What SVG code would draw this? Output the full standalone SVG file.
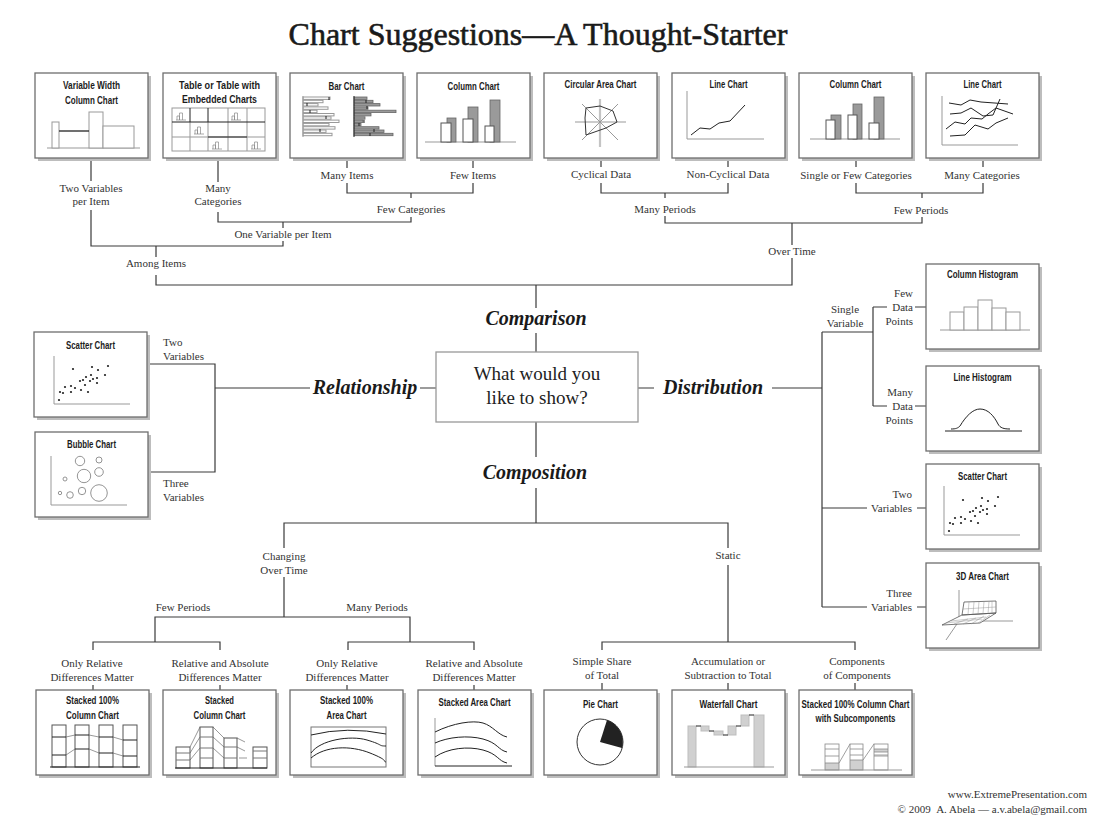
<svg xmlns="http://www.w3.org/2000/svg" xmlns:xlink="http://www.w3.org/1999/xlink" width="1104" height="824" viewBox="0 0 1104 824">
<style>
.t{font-family:"Liberation Sans",Arial,sans-serif;font-weight:bold;font-size:11px;fill:#1c1c1c;text-anchor:middle}
.l{font-family:"Liberation Serif","Times New Roman",serif;font-size:11px;fill:#333}
.c{text-anchor:middle}
.r{text-anchor:end}
.cat{font-family:"Liberation Serif","Times New Roman",serif;font-weight:bold;font-style:italic;font-size:20px;fill:#1a1a1a;text-anchor:middle}
.conn path{stroke:#3a3a3a;stroke-width:1.2;fill:none}
.g{stroke:#999;stroke-width:1;fill:none}
.gw{stroke:#999;stroke-width:1;fill:#fff}
.k{stroke:#222;stroke-width:1;fill:none}
.kw{stroke:#555;stroke-width:1;fill:#fff}
.dg{stroke:#666;stroke-width:0.8;fill:#9a9a9a}
.lt{stroke:#bdbdbd;stroke-width:1;fill:#d0d0d0}
</style>
<defs>
<g id="frame"><rect x="3" y="3" width="113" height="85" fill="#bdbdbd"/><rect x="0" y="0" width="113" height="85" fill="#fff" stroke="#6e6e6e" stroke-width="1.3"/></g>
<path id="mini" d="M0 9H10M1 9V5H3.5V9M3.5 9V2H6.5V9" fill="none" stroke="#888" stroke-width="0.7"/>
<g id="dots" fill="#222">
<circle cx="39" cy="37" r="1.1"/><circle cx="58" cy="35" r="1.1"/><circle cx="64" cy="38" r="1.1"/><circle cx="74" cy="34" r="1.1"/>
<circle cx="57" cy="43" r="1.1"/><circle cx="52" cy="45" r="1.1"/><circle cx="49" cy="48" r="1.1"/><circle cx="46" cy="49" r="1.1"/>
<circle cx="59" cy="47" r="1.1"/><circle cx="63" cy="46" r="1.1"/><circle cx="71" cy="43" r="1.1"/><circle cx="56" cy="49" r="1.1"/>
<circle cx="51" cy="53" r="1.1"/><circle cx="63" cy="51" r="1.1"/><circle cx="31" cy="55" r="1.1"/><circle cx="37" cy="54" r="1.1"/>
<circle cx="41" cy="56" r="1.1"/><circle cx="26" cy="60" r="1.1"/><circle cx="29" cy="61" r="1.1"/><circle cx="37" cy="60" r="1.1"/>
<circle cx="47" cy="58" r="1.1"/><circle cx="54" cy="60" r="1.1"/><circle cx="25" cy="68" r="1.1"/>
</g>
</defs>
<rect width="1104" height="824" fill="#fff"/>
<text x="538" y="45" font-family="'Liberation Serif','Times New Roman',serif" font-size="32" fill="#1a1a1a" stroke="#1a1a1a" stroke-width="0.6" text-anchor="middle">Chart Suggestions—A Thought-Starter</text>

<g class="conn">
<path d="M91 158V181M91 210V246H283V241M218 158V182M218 212V222H411V217M283 222V228"/>
<path d="M347 158V168M347 183V193H473V183M473 158V168M411 193V198"/>
<path d="M156 246V257M156 275V285H792V258M792 223V245"/>
<path d="M601 158V167M601 183V193H728V183M728 158V167M665 193V198M665 216V223H922V217M922 193V198"/>
<path d="M856 158V167M856 183V193H983V183M983 158V167"/>
<path d="M536 285V308M536 333V352M536 422V457M536 488V523"/>
<path d="M284 548V523H728V548M284 577V617M155 642V617H410V642M93 650V642H220V650M348 650V642H474V650"/>
<path d="M93 685V690M220 685V690M347 685V690M474 685V690"/>
<path d="M728 565V642M602 650V642H855V650M602 683V690M728 683V690M855 683V690"/>
<path d="M148 364H215V472H149M215 388H310M420 388H436"/>
<path d="M638 388H654M772 388H822M822 332V607M822 332H873M873 307V406M873 307H887M915 307H926M873 406H887M915 406H926M822 508H867M917 508H926M822 607H867M917 607H926"/>
</g>

<g id="labels" class="l">
<text class="c" x="91" y="192">Two Variables</text><text class="c" x="91" y="205">per Item</text>
<text class="c" x="218" y="192">Many</text><text class="c" x="218" y="205">Categories</text>
<text class="c" x="283" y="238">One Variable per Item</text>
<text class="c" x="156" y="267">Among Items</text>
<text class="c" x="347" y="179">Many Items</text>
<text class="c" x="473" y="179">Few Items</text>
<text class="c" x="411" y="213">Few Categories</text>
<text class="c" x="601" y="178">Cyclical Data</text>
<text class="c" x="728" y="178">Non-Cyclical Data</text>
<text class="c" x="665" y="213">Many Periods</text>
<text class="c" x="856" y="179">Single or Few Categories</text>
<text class="c" x="982" y="179">Many Categories</text>
<text class="c" x="921" y="214">Few Periods</text>
<text class="c" x="792" y="255">Over Time</text>
<text class="c" x="845" y="313">Single</text><text class="c" x="845" y="327">Variable</text>
<text class="r" x="913" y="297">Few</text><text class="r" x="913" y="311">Data</text><text class="r" x="913" y="325">Points</text>
<text class="r" x="913" y="396">Many</text><text class="r" x="913" y="410">Data</text><text class="r" x="913" y="424">Points</text>
<text class="r" x="912" y="498">Two</text><text class="r" x="912" y="512">Variables</text>
<text class="r" x="912" y="597">Three</text><text class="r" x="912" y="611">Variables</text>
<text x="163" y="346">Two</text><text x="163" y="360">Variables</text>
<text x="163" y="487">Three</text><text x="163" y="501">Variables</text>
<text class="c" x="284" y="560">Changing</text><text class="c" x="284" y="574">Over Time</text>
<text class="c" x="183" y="611">Few Periods</text>
<text class="c" x="377" y="611">Many Periods</text>
<text class="c" x="728" y="559">Static</text>
<text class="c" x="92" y="667">Only Relative</text><text class="c" x="92" y="681">Differences Matter</text>
<text class="c" x="220" y="667">Relative and Absolute</text><text class="c" x="220" y="681">Differences Matter</text>
<text class="c" x="347" y="667">Only Relative</text><text class="c" x="347" y="681">Differences Matter</text>
<text class="c" x="474" y="667">Relative and Absolute</text><text class="c" x="474" y="681">Differences Matter</text>
<text class="c" x="602" y="665">Simple Share</text><text class="c" x="602" y="679">of Total</text>
<text class="c" x="728" y="665">Accumulation or</text><text class="c" x="728" y="679">Subtraction to Total</text>
<text class="c" x="857" y="665">Components</text><text class="c" x="857" y="679">of Components</text>
</g>

<g id="categories">
<text class="cat" x="536" y="325">Comparison</text>
<text class="cat" x="365" y="394">Relationship</text>
<text class="cat" x="713" y="394">Distribution</text>
<text class="cat" x="535" y="479">Composition</text>
</g>

<g id="center">
<rect x="436" y="352" width="202" height="70" fill="#fff" stroke="#999" stroke-width="1.3"/>
<text x="537" y="380" font-family="'Liberation Serif','Times New Roman',serif" font-size="19" fill="#222" text-anchor="middle">What would you</text>
<text x="537" y="404" font-family="'Liberation Serif','Times New Roman',serif" font-size="19" fill="#222" text-anchor="middle">like to show?</text>
</g>

<g id="variable-width-column" transform="translate(35,73)">
<use href="#frame"/>
<text class="t" x="56.5" y="16" textLength="57" lengthAdjust="spacingAndGlyphs">Variable Width</text>
<text class="t" x="56.5" y="31" textLength="53" lengthAdjust="spacingAndGlyphs">Column Chart</text>
<path class="g" d="M12 75H105"/>
<rect class="gw" x="17" y="49" width="7" height="26"/><rect class="gw" x="54" y="39" width="14" height="36"/><rect class="gw" x="68" y="53" width="31" height="22"/>
<path d="M24 58H54" stroke="#222" stroke-width="1.3"/>
</g>

<g id="table" transform="translate(163,73)">
<use href="#frame"/>
<text class="t" x="56.5" y="16" textLength="81" lengthAdjust="spacingAndGlyphs">Table or Table with</text>
<text class="t" x="56.5" y="30" textLength="75" lengthAdjust="spacingAndGlyphs">Embedded Charts</text>
<rect class="g" x="9" y="35" width="93" height="43"/>
<path class="g" d="M9 64H102M65 35V78M84 35V78M27 49V78M45 49V78"/>
<path class="k" d="M9 49H102M27 35V49M45 35V49M45 64H84"/>
<use href="#mini" x="13" y="38"/><use href="#mini" x="68" y="38"/><use href="#mini" x="31" y="52"/><use href="#mini" x="49" y="67"/><use href="#mini" x="88" y="67"/>
</g>

<g id="bar-chart" transform="translate(290,73)">
<use href="#frame"/>
<text class="t" x="56.5" y="17" textLength="36" lengthAdjust="spacingAndGlyphs">Bar Chart</text>
<g class="gw" stroke-width="0.8">
<rect x="13" y="24" width="27" height="2.4"/><rect x="13" y="27.3" width="20" height="2.4"/><rect x="13" y="30.6" width="15" height="2.4"/><rect x="13" y="33.9" width="25" height="2.4"/>
<rect x="13" y="37.2" width="14" height="2.4"/><rect x="13" y="40.5" width="31" height="2.4"/><rect x="13" y="43.8" width="28" height="2.4"/><rect x="13" y="47.1" width="36" height="2.4"/>
<rect x="13" y="50.4" width="26" height="2.4"/><rect x="13" y="53.7" width="32" height="2.4"/><rect x="13" y="57" width="23" height="2.4"/><rect x="13" y="60.3" width="29" height="2.4"/>
</g>
<g class="dg">
<rect x="64" y="24" width="13" height="2.4"/><rect x="64" y="27.3" width="19" height="2.4"/><rect x="64" y="30.6" width="26" height="2.4"/><rect x="64" y="33.9" width="14" height="2.4"/>
<rect x="64" y="37.2" width="42" height="2.4"/><rect x="64" y="40.5" width="17" height="2.4"/><rect x="64" y="43.8" width="11" height="2.4"/><rect x="64" y="47.1" width="9" height="2.4"/>
<rect x="64" y="50.4" width="7" height="2.4"/><rect x="64" y="53.7" width="25" height="2.4"/><rect x="64" y="57" width="30" height="2.4"/><rect x="64" y="60.3" width="39" height="2.4"/>
</g>
<path class="g" d="M13 23V64"/><path class="k" d="M64 23V64"/>
<path class="k" d="M39 24V27M17 30V33M20 37V40M36 43V46M30 56V59M76 27V30M77 33V36M74 47V50M69 50V53M84 56V59M80 60V63"/>
</g>

<g id="column-chart-few-items" transform="translate(417,73)">
<use href="#frame"/>
<text class="t" x="56.5" y="17" textLength="52" lengthAdjust="spacingAndGlyphs">Column Chart</text>
<path class="g" d="M8 69H99"/>
<rect class="dg" x="30" y="45" width="9" height="24"/><rect class="dg" x="51" y="34" width="10" height="35"/><rect class="dg" x="73" y="27" width="10" height="42"/>
<rect class="kw" x="24" y="50" width="10" height="19"/><rect class="kw" x="46" y="46" width="10" height="23"/><rect class="kw" x="68" y="53" width="9" height="16"/>
</g>

<g id="circular-area-chart" transform="translate(544,73)">
<use href="#frame"/>
<text class="t" x="56.5" y="15" textLength="72" lengthAdjust="spacingAndGlyphs">Circular Area Chart</text>
<path d="M56 26V74" stroke="#c4c4c4" stroke-width="2.2"/>
<path class="g" d="M31 49H82M38 31L74 67M74 31L38 67"/>
<path d="M42 35L56 33L69 38L73 49L62 55L42 62L41 45Z" fill="none" stroke="#333" stroke-width="1"/>
</g>

<g id="line-chart-non-cyclical" transform="translate(672,73)">
<use href="#frame"/>
<text class="t" x="56.5" y="15" textLength="38" lengthAdjust="spacingAndGlyphs">Line Chart</text>
<path class="g" d="M15 18V66H92"/>
<path class="k" d="M19 62L28 55L38 56L47 50L58 48L73 32"/>
</g>

<g id="column-chart-few-categories" transform="translate(799,73)">
<use href="#frame"/>
<text class="t" x="56.5" y="15" textLength="52" lengthAdjust="spacingAndGlyphs">Column Chart</text>
<path class="g" d="M11 66H101"/>
<rect class="dg" x="32" y="42" width="10" height="24"/><rect class="dg" x="54" y="31" width="9" height="35"/><rect class="dg" x="75" y="24" width="10" height="42"/>
<rect class="kw" x="27" y="47" width="9" height="19"/><rect class="kw" x="49" y="42" width="9" height="24"/><rect class="kw" x="70" y="50" width="10" height="16"/>
</g>

<g id="line-chart-many-categories" transform="translate(926,73)">
<use href="#frame"/>
<text class="t" x="56.5" y="15" textLength="38" lengthAdjust="spacingAndGlyphs">Line Chart</text>
<path class="g" d="M16 23V72H92"/>
<path class="k" stroke-width="0.9" d="M23 30L35 32L44 27L55 29L82 31M24 41L35 40L45 35L57 43L67 42L74 26M20 56L29 49L39 51L45 45L56 46L62 41L70 35L87 41M24 63L39 62L49 52L62 56L70 50L82 45"/>
</g>

<g id="scatter-chart-relationship" transform="translate(34,332)">
<use href="#frame"/>
<text class="t" x="56.5" y="17" textLength="49" lengthAdjust="spacingAndGlyphs">Scatter Chart</text>
<path class="g" d="M20 24V72H96"/>
<use href="#dots"/>
</g>

<g id="bubble-chart" transform="translate(35,432)">
<use href="#frame"/>
<text class="t" x="56.5" y="16" textLength="49" lengthAdjust="spacingAndGlyphs">Bubble Chart</text>
<path class="g" d="M16 24V73H92"/>
<g fill="none" stroke="#888" stroke-width="0.9">
<circle cx="45" cy="29" r="4.7"/><circle cx="64" cy="28" r="3"/><circle cx="49" cy="44" r="6.7"/><circle cx="64" cy="40" r="4.3"/>
<circle cx="30" cy="47" r="2"/><circle cx="25" cy="61" r="1.7"/><circle cx="35" cy="63" r="3.3"/><circle cx="47" cy="59" r="3.7"/><circle cx="64" cy="61" r="8.3"/>
</g>
</g>

<g id="column-histogram" transform="translate(926,264)">
<use href="#frame"/>
<text class="t" x="56.5" y="14" textLength="71" lengthAdjust="spacingAndGlyphs">Column Histogram</text>
<path class="g" d="M14 66H104"/>
<rect class="gw" x="24" y="48" width="14" height="18"/><rect class="gw" x="38" y="43" width="14" height="23"/><rect class="gw" x="52" y="36" width="14" height="30"/><rect class="gw" x="66" y="44" width="14" height="22"/><rect class="gw" x="80" y="48" width="14" height="18"/>
</g>

<g id="line-histogram" transform="translate(926,366)">
<use href="#frame"/>
<text class="t" x="56.5" y="15" textLength="58" lengthAdjust="spacingAndGlyphs">Line Histogram</text>
<path class="k" d="M19 65H96"/>
<path class="k" stroke-width="0.9" d="M25 63C30 63 32 62 34 60C40 50 47 43 54 43C62 43 68 50 72 58C74 62 78 63 84 63"/>
</g>

<g id="scatter-chart-distribution" transform="translate(926,464)">
<use href="#frame"/>
<text class="t" x="56.5" y="16" textLength="49" lengthAdjust="spacingAndGlyphs">Scatter Chart</text>
<path class="g" d="M18 22V71H94"/>
<use href="#dots" transform="translate(-2,-1)"/>
</g>

<g id="area-chart-3d" transform="translate(926,563)">
<use href="#frame"/>
<text class="t" x="56.5" y="17" textLength="53" lengthAdjust="spacingAndGlyphs">3D Area Chart</text>
<path class="g" d="M33 27V58H87M33 58L20 77"/>
<path d="M36 52L38 39L70 38L70 50ZM16 62L36 52L70 50L54 60Z" fill="#fff" stroke="#555" stroke-width="0.8"/>
<path d="M42 51.5L43 39M47 51L48 39M52 51L53 38.5M57 50.5L58 38.5M62 50.5L63 38.5M66 50L66 38M37 46L70 44M20 60L56 56M25 58L60 54M42 56L28 61M50 55L37 61M58 53L45 61M64 52L52 60" fill="none" stroke="#999" stroke-width="0.5"/>
</g>

<g id="stacked-100-column" transform="translate(36,690)">
<use href="#frame"/>
<text class="t" x="56.5" y="14" textLength="53" lengthAdjust="spacingAndGlyphs">Stacked 100%</text>
<text class="t" x="56.5" y="29" textLength="53" lengthAdjust="spacingAndGlyphs">Column Chart</text>
<path class="g" d="M30 47L39 45M30 65L39 59M53 45L63 47M53 59L63 63M77 47L87 50M77 63L87 66"/>
<g class="kw"><rect x="16" y="35" width="14" height="42"/><rect x="39" y="35" width="14" height="42"/><rect x="63" y="35" width="14" height="42"/><rect x="87" y="35" width="14" height="42"/></g>
<path class="k" stroke="#777" d="M16 47H30M16 65H30M39 45H53M39 59H53M63 47H77M63 63H77M87 50H101M87 66H101"/>
<path class="k" d="M14 77H104"/>
</g>

<g id="stacked-column" transform="translate(163,690)">
<use href="#frame"/>
<text class="t" x="56.5" y="14" textLength="29" lengthAdjust="spacingAndGlyphs">Stacked</text>
<text class="t" x="56.5" y="29" textLength="52" lengthAdjust="spacingAndGlyphs">Column Chart</text>
<path class="g" d="M27 57L37 37M27 63L37 47M27 70L37 58M50 37L61 48M50 47L61 57M50 58L61 68M74 48L82 52M74 57L82 61M76 68L84 68"/>
<g class="kw"><rect x="13" y="57" width="14" height="21"/><rect x="37" y="37" width="13" height="41"/><rect x="61" y="48" width="13" height="30"/><rect x="90" y="57" width="14" height="21"/></g>
<path stroke="#777" fill="none" d="M13 63H27M13 70H27M37 47H50M37 58H50M37 68H50M61 57H74M61 68H74M90 61H104M90 68H104"/>
<path class="k" d="M12 78H104"/>
</g>

<g id="stacked-100-area" transform="translate(290,690)">
<use href="#frame"/>
<text class="t" x="56.5" y="14" textLength="53" lengthAdjust="spacingAndGlyphs">Stacked 100%</text>
<text class="t" x="56.5" y="29" textLength="40" lengthAdjust="spacingAndGlyphs">Area Chart</text>
<rect x="21" y="37" width="75" height="40" fill="none" stroke="#777"/>
<path class="k" stroke-width="0.9" d="M21 45Q57 36 96 44M21 63C30 50 60 45 77 50S88 56 96 56M21 68C35 56 60 55 80 63S92 71 96 72"/>
</g>

<g id="stacked-area" transform="translate(418,690)">
<use href="#frame"/>
<text class="t" x="56.5" y="16" textLength="72" lengthAdjust="spacingAndGlyphs">Stacked Area Chart</text>
<path class="g" d="M17 28V76"/><path class="k" d="M17 76H94"/>
<path class="k" stroke-width="0.9" d="M17 42C35 33 55 30 65 33S80 45 89 47M17 53C30 47 50 45 65 49S80 60 89 62M17 67C30 58 50 56 65 60S80 71 89 73"/>
</g>

<g id="pie-chart" transform="translate(544,690)">
<use href="#frame"/>
<text class="t" x="56.5" y="18" textLength="35" lengthAdjust="spacingAndGlyphs">Pie Chart</text>
<circle cx="56" cy="52" r="23" fill="#fff" stroke="#333" stroke-width="1"/>
<path d="M56 52L63 30A23 23 0 0 1 78 58Z" fill="#222"/>
</g>

<g id="waterfall-chart" transform="translate(672,690)">
<use href="#frame"/>
<text class="t" x="56.5" y="18" textLength="58" lengthAdjust="spacingAndGlyphs">Waterfall Chart</text>
<g class="lt" stroke="#999"><rect x="16" y="36" width="8" height="41"/><rect x="29" y="36" width="8" height="5"/><rect x="42" y="41" width="9" height="4"/><rect x="56" y="36" width="8" height="9"/><rect x="69" y="25" width="8" height="11"/><rect x="82" y="25" width="10" height="52"/></g>
<path class="k" d="M24 36H29M37 41H42M51 45H56M64 36H69M77 25H82"/>
<path class="g" stroke="#777" d="M12 77H102"/>
</g>

<g id="stacked-100-column-subcomponents" transform="translate(799,690)">
<use href="#frame"/>
<text class="t" x="56.5" y="18" textLength="108" lengthAdjust="spacingAndGlyphs">Stacked 100% Column Chart</text>
<text class="t" x="56.5" y="32" textLength="80" lengthAdjust="spacingAndGlyphs">with Subcomponents</text>
<rect x="26" y="73" width="14" height="7" fill="#d0d0d0"/><rect x="51" y="70" width="13" height="10" fill="#d0d0d0"/><rect x="75" y="59" width="14" height="3" fill="#d0d0d0"/><rect x="75" y="64" width="14" height="2" fill="#d0d0d0"/>
<g fill="none" stroke="#888" stroke-width="0.8"><rect x="26" y="54" width="14" height="26"/><rect x="51" y="54" width="13" height="26"/><rect x="75" y="54" width="14" height="26"/>
<path d="M26 59H40M26 66H40M26 73H40M51 59H64M51 65H64M51 70H64M75 59H89M75 62H89M75 66H89M40 73L51 54M64 70L75 54"/></g>
<path class="g" stroke="#777" d="M12 80H103"/>
</g>

<g id="footer" class="l" font-size="10.5">
<text class="r" x="1087" y="798">www.ExtremePresentation.com</text>
<text class="r" x="1087" y="813">© 2009 &#160;A. Abela — a.v.abela@gmail.com</text>
</g>
</svg>
